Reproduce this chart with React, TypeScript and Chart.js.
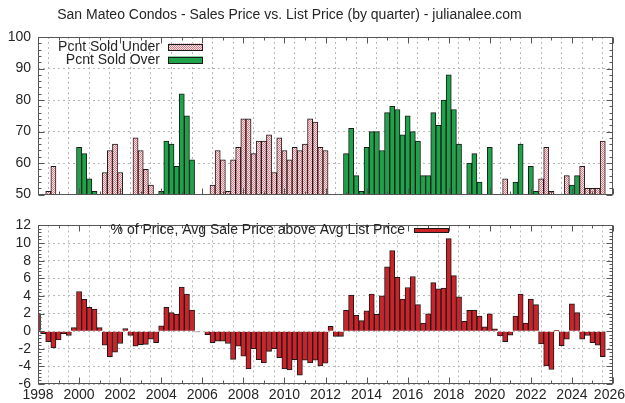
import React, { useEffect, useRef } from 'react';
import { Chart, registerables } from 'chart.js';

Chart.register(...registerables);

const TITLE = 'San Mateo Condos - Sales Price vs. List Price (by quarter) - julianalee.com';
const UNDER_LABEL = 'Pcnt Sold Under';
const OVER_LABEL = 'Pcnt Sold Over';
const PRICE_LABEL = '% of Price, Avg Sale Price above Avg List Price';

const FIRST_YEAR = 1998;
const X_MIN = 1998;
const X_MAX = 2026;
const X_LABEL_YEARS = [1998, 2000, 2002, 2004, 2006, 2008, 2010, 2012, 2014, 2016, 2018, 2020, 2022, 2024, 2026];
const TOP_Y_TICKS = [50, 60, 70, 80, 90, 100];
const BOTTOM_Y_TICKS = [-6, -4, -2, 0, 2, 4, 6, 8, 10, 12];

const N = null;
// one row per year, quarters Q1..Q4
const pcntSoldUnder = [
  N, N, 51, 59, // 1998
  N, N, N, N, // 1999
  N, N, N, N, // 2000
  N, 57, 64, 66, // 2001
  57, N, N, 68, // 2002
  64, 58, 53, N, // 2003
  N, N, N, N, // 2004
  N, N, N, N, // 2005
  N, N, 53, 64, // 2006
  61, 51, 61, 65, // 2007
  74, 74, 63, 67, // 2008
  67, 69, 57, 68, // 2009
  64, 61, 65, 64, // 2010
  66, 74, 73, 65, // 2011
  64, N, N, N, // 2012
  N, N, N, N, // 2013
  N, N, N, N, // 2014
  N, N, N, N, // 2015
  N, N, N, N, // 2016
  N, N, N, N, // 2017
  N, N, N, N, // 2018
  N, N, N, N, // 2019
  N, N, N, 55, // 2020
  N, N, N, N, // 2021
  N, N, 55, 65, // 2022
  51, N, N, 56, // 2023
  N, N, 59, 52, // 2024
  52, 52, 67, // 2025
];

const pcntSoldOver = [
  N, N, N, N, // 1998
  N, N, N, N, // 1999
  65, 63, 55, 51, // 2000
  N, N, N, N, // 2001
  N, N, N, N, // 2002
  N, N, N, N, // 2003
  51, 67, 66, 59, // 2004
  82, 75, 61, N, // 2005
  N, N, N, N, // 2006
  N, N, N, N, // 2007
  N, N, N, N, // 2008
  N, N, N, N, // 2009
  N, N, N, N, // 2010
  N, N, N, N, // 2011
  N, N, N, N, // 2012
  63, 71, 56, 51, // 2013
  65, 70, 70, 64, // 2014
  76, 78, 77, 69, // 2015
  75, 70, 67, 56, // 2016
  56, 76, 72, 80, // 2017
  88, 77, 66, N, // 2018
  60, 63, 54, N, // 2019
  65, N, N, N, // 2020
  N, 54, 66, N, // 2021
  59, 51, N, N, // 2022
  N, N, N, N, // 2023
  53, 56, N, N, // 2024
  N, N, N, // 2025
];

const pctSaleAboveList = [
  2.0, -0.3, -1.2, -1.9, // 1998
  -1.0, -0.3, -0.5, 0.4, // 1999
  4.5, 3.6, 2.7, 2.5, // 2000
  0.4, -1.6, -2.9, -2.4, // 2001
  -1.4, 0.3, -0.5, -1.7, // 2002
  -1.55, -1.5, -0.9, -1.3, // 2003
  0.6, 2.7, 2.1, 1.9, // 2004
  5.0, 4.2, 2.4, -0.1, // 2005
  0, -0.4, -1.3, -1.15, // 2006
  -1.15, -1.4, -3.2, -1.7, // 2007
  -2.85, -4.3, -2.0, -3.25, // 2008
  -3.6, -2.3, -2.0, -3.0, // 2009
  -4.3, -4.4, -3.25, -5.0, // 2010
  -3.3, -3.6, -3.3, -3.95, // 2011
  -3.65, 0.55, -0.6, -0.6, // 2012
  2.35, 4.1, 1.8, 1.2, // 2013
  2.3, 4.2, 1.9, 4.0, // 2014
  7.3, 9.15, 6.1, 3.65, // 2015
  4.95, 6.2, 3.0, 0.9, // 2016
  1.95, 5.5, 4.8, 4.9, // 2017
  10.5, 6.3, 3.9, 1.1, // 2018
  2.35, 2.4, 1.7, 0.5, // 2019
  1.95, 0.25, -0.55, -1.2, // 2020
  -0.45, 1.7, 4.2, 0.9, // 2021
  3.65, 3.0, -1.45, -3.95, // 2022
  -4.35, 0.1, -1.65, -0.9, // 2023
  3.1, 2.1, -0.9, -0.5, // 2024
  -1.3, -1.6, -2.9, // 2025
];

const quarterX = pctSaleAboveList.map((_v, i) => FIRST_YEAR + i / 4);

const FONT_FAMILY = '"Liberation Sans", Arial, Helvetica, sans-serif';
const TEXT_COLOR = '#262626';
const GRID_COLOR = '#b8b8b8';
const FRAME_COLOR = '#555555';
const BAR_BORDER = '#1a1a1a';
const GREEN = '#1ea34a';
const RED = '#cc2229';

function makePinkPattern(): CanvasPattern | string {
  const c = document.createElement('canvas');
  c.width = 2;
  c.height = 2;
  const g = c.getContext('2d');
  if (!g) return '#f0b0b8';
  g.fillStyle = '#fce6e8';
  g.fillRect(0, 0, 2, 2);
  g.fillStyle = '#e47a86';
  g.fillRect(0, 0, 1, 1);
  g.fillRect(1, 1, 1, 1);
  const p = g.createPattern(c, 'repeat');
  return p || '#f0b0b8';
}

const framePlugin = {
  id: 'frame',
  afterDraw(chart: any, _args: any, opts: any) {
    const { ctx, chartArea: a, scales } = chart;
    const xs = scales.x;
    const ys = scales.y;
    ctx.save();
    ctx.setLineDash([]);
    ctx.strokeStyle = FRAME_COLOR;
    ctx.lineWidth = 1;
    const L = Math.round(a.left) + 0.5;
    const R = Math.round(a.right) - 0.5;
    const T = Math.round(a.top) + 0.5;
    const B = Math.round(a.bottom) - 0.5;
    ctx.strokeRect(L, T, R - L, B - T);
    ctx.beginPath();
    for (let yr = X_MIN; yr <= X_MAX; yr++) {
      const px = Math.round(xs.getPixelForValue(yr)) + 0.5;
      const len = yr % 2 === 0 ? 6 : 3;
      ctx.moveTo(px, B);
      ctx.lineTo(px, B - len);
      ctx.moveTo(px, T);
      ctx.lineTo(px, T + len);
    }
    const ticks: number[] = opts.yTicks;
    const sub: number = opts.ySub;
    for (let k = 0; k < ticks.length; k++) {
      const py = Math.round(ys.getPixelForValue(ticks[k])) + 0.5;
      ctx.moveTo(L, py);
      ctx.lineTo(L + 6, py);
      ctx.moveTo(R, py);
      ctx.lineTo(R - 6, py);
      if (k < ticks.length - 1) {
        const step = (ticks[k + 1] - ticks[k]) / sub;
        for (let m = 1; m < sub; m++) {
          const pm = Math.round(ys.getPixelForValue(ticks[k] + m * step)) + 0.5;
          ctx.moveTo(L, pm);
          ctx.lineTo(L + 3, pm);
          ctx.moveTo(R, pm);
          ctx.lineTo(R - 3, pm);
        }
      }
    }
    ctx.stroke();
    ctx.restore();
  },
};

const textPlugin = {
  id: 'texts',
  afterDraw(chart: any, _args: any, opts: any) {
    const { ctx } = chart;
    ctx.save();
    ctx.setLineDash([]);
    ctx.font = `14px ${FONT_FAMILY}`;
    ctx.fillStyle = TEXT_COLOR;
    ctx.textBaseline = 'middle';
    if (opts.title) {
      ctx.textAlign = 'center';
      ctx.fillText(opts.title, opts.titleX, opts.titleY);
    }
    (opts.legend || []).forEach((item: any) => {
      const ds = chart.data.datasets[item.dataset];
      ctx.textAlign = 'right';
      ctx.fillStyle = TEXT_COLOR;
      ctx.fillText(ds.label, item.textRight, item.y);
      ctx.fillStyle = ds.backgroundColor;
      ctx.fillRect(item.boxLeft, item.y - item.boxH / 2, item.boxW, item.boxH);
      ctx.strokeStyle = BAR_BORDER;
      ctx.lineWidth = 1;
      ctx.strokeRect(item.boxLeft + 0.5, Math.round(item.y - item.boxH / 2) + 0.5, item.boxW - 1, item.boxH - 1);
    });
    if (opts.xLabels) {
      const xs = chart.scales.x;
      ctx.fillStyle = TEXT_COLOR;
      ctx.textAlign = 'center';
      opts.xLabels.forEach((yr: number) => {
        const s = String(yr);
        const w = ctx.measureText(s).width;
        let cx = xs.getPixelForValue(yr);
        cx = Math.max(w / 2, Math.min(chart.width - w / 2, cx));
        ctx.fillText(s, cx, opts.xLabelY);
      });
    }
    ctx.restore();
  },
};

function baseScales(yMin: number, yMax: number, yStep: number, xHeight: number) {
  return {
    x: {
      type: 'linear',
      min: X_MIN,
      max: X_MAX,
      offset: false,
      ticks: { display: false, stepSize: 1, autoSkip: false },
      grid: { color: GRID_COLOR, lineWidth: 1, drawTicks: false },
      border: { display: false, dash: [2, 3] },
      afterFit: (s: any) => {
        s.height = xHeight;
      },
    },
    y: {
      type: 'linear',
      min: yMin,
      max: yMax,
      ticks: {
        stepSize: yStep,
        autoSkip: false,
        padding: 7,
        color: TEXT_COLOR,
        font: { family: FONT_FAMILY, size: 14 },
      },
      grid: { color: GRID_COLOR, lineWidth: 1, drawTicks: false },
      border: { display: false, dash: [2, 3] },
      afterFit: (s: any) => {
        s.width = 38;
      },
    },
  };
}

export default function App() {
  const topRef = useRef<HTMLCanvasElement | null>(null);
  const bottomRef = useRef<HTMLCanvasElement | null>(null);

  useEffect(() => {
    if (!topRef.current || !bottomRef.current) return;
    const pink = makePinkPattern();
    const barCommon = {
      borderColor: BAR_BORDER,
      borderWidth: 1,
      grouped: false,
      barPercentage: 1,
      categoryPercentage: 1,
      clip: 0,
    };

    const top = new Chart(topRef.current, {
      type: 'bar',
      data: {
        datasets: [
          {
            label: UNDER_LABEL,
            data: quarterX.map((x, i) => ({ x, y: pcntSoldUnder[i] })),
            backgroundColor: pink,
            base: 50,
            ...barCommon,
          },
          {
            label: OVER_LABEL,
            data: quarterX.map((x, i) => ({ x, y: pcntSoldOver[i] })),
            backgroundColor: GREEN,
            base: 50,
            ...barCommon,
          },
        ],
      },
      options: {
        animation: false,
        responsive: true,
        maintainAspectRatio: false,
        layout: { padding: { top: 37, right: 12, bottom: 10, left: 0 } },
        plugins: {
          legend: { display: false },
          tooltip: { enabled: false },
          frame: { yTicks: TOP_Y_TICKS, ySub: 5 },
          texts: {
            title: TITLE,
            titleX: 289.5,
            titleY: 15,
            legend: [
              { dataset: 0, textRight: 160, y: 47, boxLeft: 168, boxW: 35, boxH: 7 },
              { dataset: 1, textRight: 160, y: 60, boxLeft: 168, boxW: 35, boxH: 7 },
            ],
          },
        } as any,
        scales: baseScales(50, 100, 10, 0) as any,
      },
      plugins: [framePlugin, textPlugin],
    } as any);

    const bottom = new Chart(bottomRef.current, {
      type: 'bar',
      data: {
        datasets: [
          {
            label: PRICE_LABEL,
            data: quarterX.map((x, i) => ({ x, y: pctSaleAboveList[i] })),
            backgroundColor: RED,
            ...barCommon,
          },
        ],
      },
      options: {
        animation: false,
        responsive: true,
        maintainAspectRatio: false,
        layout: { padding: { top: 11, right: 12, bottom: 0, left: 0 } },
        plugins: {
          legend: { display: false },
          tooltip: { enabled: false },
          frame: { yTicks: BOTTOM_Y_TICKS, ySub: 5 },
          texts: {
            legend: [{ dataset: 0, textRight: 405, y: 20.5, boxLeft: 414, boxW: 35, boxH: 5 }],
            xLabels: X_LABEL_YEARS,
            xLabelY: 185,
          },
        } as any,
        scales: baseScales(-6, 12, 2, 19) as any,
      },
      plugins: [framePlugin, textPlugin],
    } as any);

    return () => {
      top.destroy();
      bottom.destroy();
    };
  }, []);

  return (
    <div style={{ position: 'absolute', left: 0, top: 0, width: 625, height: 403, background: '#ffffff' }}>
      <div style={{ position: 'absolute', left: 0, top: 0, width: 625, height: 210 }}>
        <canvas ref={topRef} />
      </div>
      <div style={{ position: 'absolute', left: 0, top: 210, width: 625, height: 193 }}>
        <canvas ref={bottomRef} />
      </div>
    </div>
  );
}
